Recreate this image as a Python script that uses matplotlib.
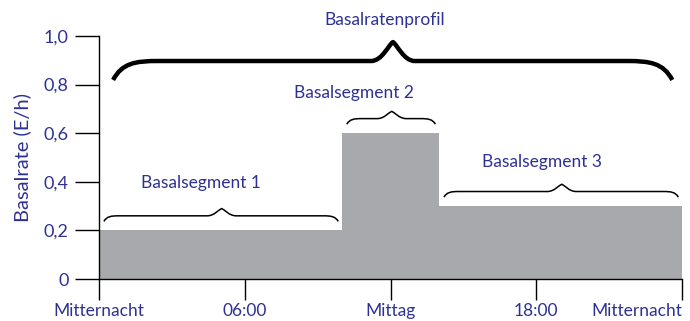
import matplotlib
matplotlib.use('agg')
import matplotlib.pyplot as plt
from matplotlib.path import Path
from matplotlib.patches import PathPatch

# segment data (hours, E/h)
seg_starts = [0, 10, 14]
seg_ends = [10, 14, 24]
seg_rates = [0.2, 0.6, 0.3]
seg_names = ['Basalsegment 1', 'Basalsegment 2', 'Basalsegment 3']
profile_name = 'Basalratenprofil'

x_ticks = [0, 6, 12, 18, 24]
x_labels = ['Mitternacht', '06:00', 'Mittag', '18:00', 'Mitternacht']
y_ticks = [0, 0.2, 0.4, 0.6, 0.8, 1.0]
y_labels = ['0', '0,2', '0,4', '0,6', '0,8', '1,0']
y_title = 'Basalrate (E/h)'

blue = '#2e3192'
gray = '#a7a9ac'
plt.rcParams['font.family'] = ['Lato', 'DejaVu Sans']


def brace(ax, x0, x1, y_end, y_mid, y_tip, curl, tip_w, xc=None, lw=1.2):
    if xc is None:
        xc = (x0 + x1) / 2
    verts = [
        (x0, y_end),
        (x0 + curl * 0.2, y_mid - (y_mid - y_end) * 0.1), (x0 + curl * 0.5, y_mid), (x0 + curl, y_mid),
        (xc - tip_w, y_mid),
        (xc - tip_w * 0.5, y_mid), (xc - tip_w * 0.2, y_tip - (y_tip - y_mid) * 0.15), (xc, y_tip),
        (xc + tip_w * 0.2, y_tip - (y_tip - y_mid) * 0.15), (xc + tip_w * 0.5, y_mid), (xc + tip_w, y_mid),
        (x1 - curl, y_mid),
        (x1 - curl * 0.5, y_mid), (x1 - curl * 0.2, y_mid - (y_mid - y_end) * 0.1), (x1, y_end),
    ]
    codes = [Path.MOVETO,
             Path.CURVE4, Path.CURVE4, Path.CURVE4,
             Path.LINETO,
             Path.CURVE4, Path.CURVE4, Path.CURVE4,
             Path.CURVE4, Path.CURVE4, Path.CURVE4,
             Path.LINETO,
             Path.CURVE4, Path.CURVE4, Path.CURVE4]
    patch = PathPatch(Path(verts, codes), facecolor='none', edgecolor='black',
                      lw=lw, clip_on=False, capstyle='butt', joinstyle='round')
    ax.add_patch(patch)


fig = plt.figure(figsize=(6.9, 3.21), dpi=100)
ax = fig.add_axes([0.1435, 0.1308, 0.9884 - 0.1435, 0.8879 - 0.1308])

widths = [e - s for s, e in zip(seg_starts, seg_ends)]
ax.bar(seg_starts, seg_rates, width=widths, align='edge', color=gray, linewidth=0)

ax.set_xlim(0, 24)
ax.set_ylim(0, 1.0)
for s in ['top', 'right']:
    ax.spines[s].set_visible(False)
for s in ['left', 'bottom']:
    ax.spines[s].set_linewidth(1.0)

ax.set_xticks(x_ticks)
ax.set_xticklabels(x_labels, color=blue, fontsize=12.5)
ax.get_xticklabels()[-1].set_ha('right')
ax.get_xticklabels()[-1].set_x(24.1)
ax.set_yticks(y_ticks)
ax.set_yticklabels(y_labels, color=blue, fontsize=13)
ax.tick_params(axis='x', direction='out', length=15, width=1.0, pad=2)
ax.tick_params(axis='y', direction='out', length=17, width=1.0, pad=5)
ax.set_ylabel(y_title, color=blue, fontsize=14.5, labelpad=9)

# segment braces and labels
label_dx = [-0.8, -1.5, -0.75]
label_dy = [0.195, 0.165, 0.18]
for s, e, r, name, dx, dy in zip(seg_starts, seg_ends, seg_rates, seg_names, label_dx, label_dy):
    xc = (s + e) / 2
    brace(ax, s + 0.2, e - 0.15, r + 0.037, r + 0.06, r + 0.09, 0.6, 0.6, xc=xc + 0.05, lw=1.1)
    ax.text(xc + dx, r + dy, name, color=blue, fontsize=12.5, ha='center', va='center')

# overall profile brace
brace(ax, 0.58, 23.6, 0.819, 0.897, 0.975, 1.85, 0.9, xc=12.1, lw=3.2)
ax.text(11.75, 1.066, profile_name, color=blue, fontsize=12.5, ha='center', va='center',
        clip_on=False)

fig.savefig('out.png', dpi=100)
